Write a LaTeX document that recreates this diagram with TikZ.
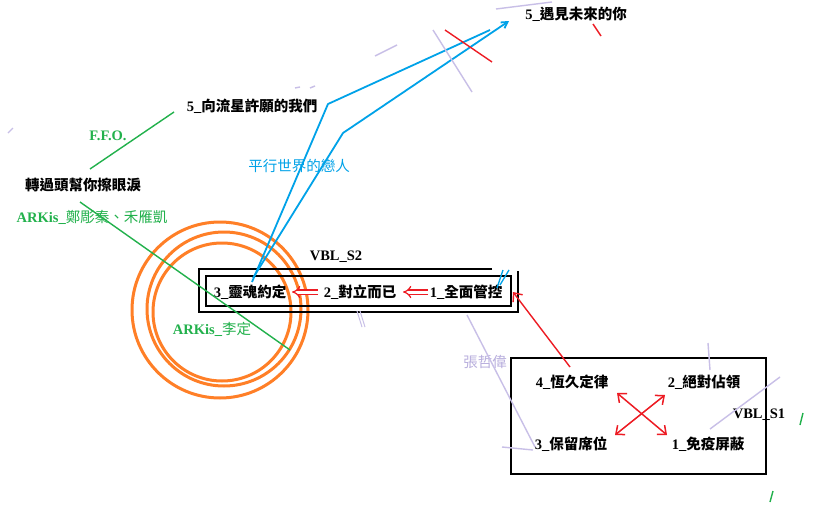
\documentclass[tikz,border=0pt]{standalone}
\usepackage{fontspec}
\setmainfont{Liberation Serif}
\newfontfamily\cjk{Noto Sans CJK TC}
\newcommand\zh[1]{{\cjk #1}}
\usetikzlibrary{arrows.meta}
\definecolor{pgreen}{HTML}{22B14C}
\definecolor{pblue}{HTML}{00A2E8}
\definecolor{pred}{HTML}{ED1C24}
\definecolor{porange}{HTML}{FF7F27}
\definecolor{plav}{HTML}{C8BFE7}
\definecolor{plavtxt}{HTML}{B8AEDD}
\begin{document}
\begin{tikzpicture}[x=1pt,y=-1pt,
  lbl/.style={inner sep=1pt,font=\fontsize{14.5}{16}\selectfont\bfseries},
  glbl/.style={lbl,text=pgreen},
  blbl/.style={inner sep=1pt,font=\fontsize{14.5}{16}\selectfont,text=pblue},
  llbl/.style={inner sep=1pt,font=\fontsize{14.5}{16}\selectfont,text=plavtxt},
  gline/.style={pgreen,line width=1.4pt},
  bline/.style={pblue,line width=1.8pt,line join=round},
  rline/.style={pred,line width=1.4pt},
  lline/.style={plav,line width=1.4pt},
  kbox/.style={black,line width=1.8pt},
  orng/.style={porange,line width=3pt},
  dblarr/.style={pred,double,double distance=3pt,line width=1.2pt,-{Implies[length=7pt]}},
  xarr/.style={pred,line width=1.5pt,{Straight Barb[length=7pt,width=12pt]}-{Straight Barb[length=7pt,width=12pt]}},
]
\useasboundingbox[fill=white] (0,0) rectangle (817,506);

% circles
\draw[orng] (220,310) circle (88);
\draw[orng] (224,309) circle (77);
\draw[orng] (222,312) circle (69);

% S2 boxes
\draw[kbox] (492,269) -- (199,269) -- (199,312) -- (518,312) -- (518,271);
\draw[kbox] (206,276) rectangle (511,306);

% S1 box
\draw[kbox] (511,358) rectangle (766,474);

% labels
\node[lbl] (t5a) at (252,106) {5\_\zh{向流星許願的我們}};
\node[lbl] (t5b) at (576,14) {5\_\zh{遇見未來的你}};
\node[glbl] (ffo) at (108,136) {F.F.O.};
\node[lbl] (turn) at (83,185) {\zh{轉過頭幫你擦眼淚}};
\node[glbl] (ark1) at (92,217) {ARKis\_\zh{\mdseries 鄭彫秦、禾雁凱}};
\node[blbl] (para) at (299,166) {\zh{平行世界的戀人}};
\node[lbl] (vbls2) at (336,257) {VBL\_S2};
\node[lbl] (s2n3) at (250,292) {3\_\zh{靈魂約定}};
\node[lbl] (s2n2) at (360,292) {2\_\zh{對立而已}};
\node[lbl] (s2n1) at (466,292) {1\_\zh{全面管控}};
\node[glbl] (ark2) at (212,329) {ARKis\_\zh{\mdseries 李定}};
\node[llbl] (zhang) at (485,362) {\zh{張哲偉}};
\node[lbl] (s1n4) at (572,382) {4\_\zh{恆久定律}};
\node[lbl] (s1n2) at (704,382) {2\_\zh{絕對佔領}};
\node[lbl] (vbls1) at (759,415) {VBL\_S1};
\node[lbl] (s1n3) at (571,444) {3\_\zh{保留席位}};
\node[lbl] (s1n1) at (708,444) {1\_\zh{免疫屏蔽}};

% coordinates
\coordinate (ga1) at (174,112); \coordinate (ga2) at (90,169);
\coordinate (gb1) at (80,202); \coordinate (gb2) at (290,350);
\coordinate (ba0) at (252,282); \coordinate (ba1) at (328,104); \coordinate (ba2) at (490,30);
\coordinate (bb0) at (253,278); \coordinate (bb1) at (343,133); \coordinate (bb2) at (509,21);
\coordinate (rarrS) at (570,367); \coordinate (rarrE) at (513,292);

% green lines
\draw[gline] (ga1) -- (ga2);
\draw[gline] (gb1) -- (gb2);
\draw[gline] (800,425) -- (803,413);
\draw[gline] (770,502) -- (773,491);

% blue lines
\draw[bline] (ba0) -- (ba1) -- (ba2);
\draw[bline,-{Straight Barb[length=6pt,width=7pt]}] (bb0) -- (bb1) -- (bb2);
\draw[pblue,line width=1.3pt] (497,288) -- (503,270);
\draw[pblue,line width=1.3pt] (500,285) -- (509,270);

% red lines
\draw[rline] (445,30) -- (492,62);
\draw[rline] (593,24) -- (601,36);
\draw[rline,-{Straight Barb[length=7pt,width=12pt]}] (rarrS) -- (rarrE);
\draw[xarr] (617,393) -- (667,435);
\draw[xarr] (615,435) -- (665,395);

% double arrows
\draw[dblarr] (318,292) -- (292,292);
\draw[dblarr] (428,292) -- (403,292);

% lavender strokes
\draw[lline] (433,30) -- (472,92);
\draw[lline] (375,56) -- (397,45);
\draw[lline] (496,9) -- (552,2);
\draw[lline] (295,88) -- (300,87);
\draw[lline] (310,88) -- (315,86);
\draw[lline] (8,133) -- (13,128);
\draw[lline,line width=1pt] (357,311) -- (362,327);
\draw[lline,line width=1pt] (360,311) -- (365,327);
\draw[lline] (467,315) -- (535,447);
\draw[lline] (502,447) -- (533,450);
\draw[lline] (708,343) -- (710,370);
\draw[lline] (710,429) -- (780,377);
\end{tikzpicture}
\end{document}
